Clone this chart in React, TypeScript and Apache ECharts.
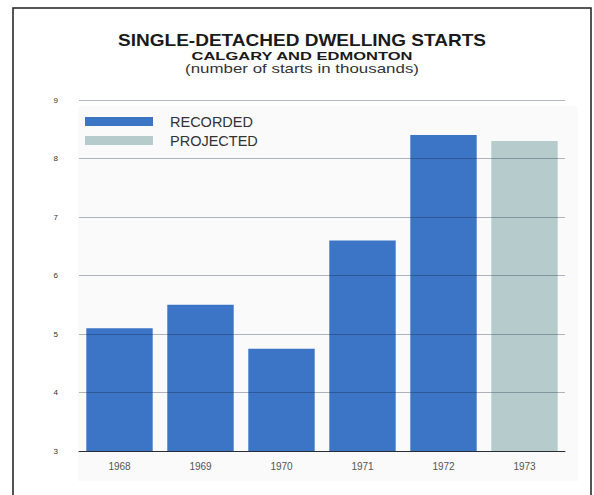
import React, { useEffect, useRef } from "react";
import * as echarts from "echarts";

// Single-detached dwelling starts, thousands
const years = ["1968", "1969", "1970", "1971", "1972", "1973"];
const recorded = [5.1, 5.5, 4.75, 6.6, 8.4, null];
const projected = [null, null, null, null, null, 8.3];
const yMin = 3;
const yMax = 9;

const titleLines = [
  { text: "SINGLE-DETACHED DWELLING STARTS", weight: "bold", size: 16.5, y: 40, width: 368, color: "#1a1a1a" },
  { text: "CALGARY AND EDMONTON", weight: "bold", size: 11.5, y: 56, width: 222, color: "#1a1a1a" },
  { text: "(number of starts in thousands)", weight: "normal", size: 12, y: 69, width: 234, color: "#333" },
];

const BLUE = "#3c74c6";
const GREY_GREEN = "#b6cccc";
const FONT = "Liberation Sans";

// The headings are set in a wide, tracked typeface: stretch each line to its width.
function stretch(text: string, weight: string, size: number, width: number) {
  const ctx = document.createElement("canvas").getContext("2d");
  if (!ctx) return 1;
  ctx.font = `${weight} ${size}px "${FONT}"`;
  const w = ctx.measureText(text).width;
  return w > 0 ? width / w : 1;
}

export default function App() {
  const ref = useRef<HTMLDivElement>(null);

  useEffect(() => {
    if (!ref.current) return;
    const chart = echarts.init(ref.current, null, { renderer: "svg" });

    const headings = titleLines.map((l) => ({
      type: "text",
      x: 302,
      y: l.y,
      scaleX: stretch(l.text, l.weight, l.size, l.width),
      silent: true,
      style: {
        text: l.text,
        fontFamily: FONT,
        fontWeight: l.weight,
        fontSize: l.size,
        fill: l.color,
        textAlign: "center",
        textVerticalAlign: "middle",
      },
    }));

    chart.setOption({
      animation: false,
      backgroundColor: "#ffffff",
      legend: {
        orient: "vertical",
        left: 85,
        top: 114,
        padding: 0,
        itemWidth: 68,
        itemHeight: 9,
        itemGap: 4,
        icon: "rect",
        textStyle: {
          fontFamily: FONT,
          fontSize: 14.5,
          lineHeight: 14,
          color: "#333",
          padding: [0, 0, 0, 12],
        },
        data: ["RECORDED", "PROJECTED"],
      },
      grid: { left: 79, right: 29, top: 100, bottom: 44 },
      xAxis: {
        type: "category",
        data: years,
        axisLine: { show: true, lineStyle: { color: "#333", width: 1 } },
        axisTick: { show: false },
        axisLabel: { fontFamily: FONT, fontSize: 10, color: "#555", margin: 10 },
      },
      yAxis: {
        type: "value",
        min: yMin,
        max: yMax,
        interval: 1,
        z: 5,
        axisLine: { show: false },
        axisTick: { show: false },
        axisLabel: { fontFamily: FONT, fontSize: 8, color: "#333", margin: 21 },
        splitLine: { lineStyle: { color: "rgba(20,35,60,0.32)", width: 1 } },
      },
      series: [
        {
          name: "RECORDED",
          type: "bar",
          data: recorded,
          barWidth: "82%",
          barGap: "-100%",
          itemStyle: { color: BLUE },
        },
        {
          name: "PROJECTED",
          type: "bar",
          data: projected,
          barWidth: "82%",
          itemStyle: { color: GREY_GREEN },
        },
      ],
      graphic: [
        {
          type: "rect",
          z: -10,
          silent: true,
          shape: { x: 78, y: 106, width: 500, height: 375 },
          style: { fill: "#fafafa" },
        },
        {
          type: "rect",
          z: 10,
          silent: true,
          shape: { x: 13, y: 8, width: 578, height: 520 },
          style: { fill: "none", stroke: "#1e1e1e", lineWidth: 1.5 },
        },
        ...headings,
      ],
    });
    return () => chart.dispose();
  }, []);

  return (
    <div
      ref={ref}
      style={{ position: "fixed", left: 0, top: 0, width: 594, height: 495 }}
    />
  );
}
